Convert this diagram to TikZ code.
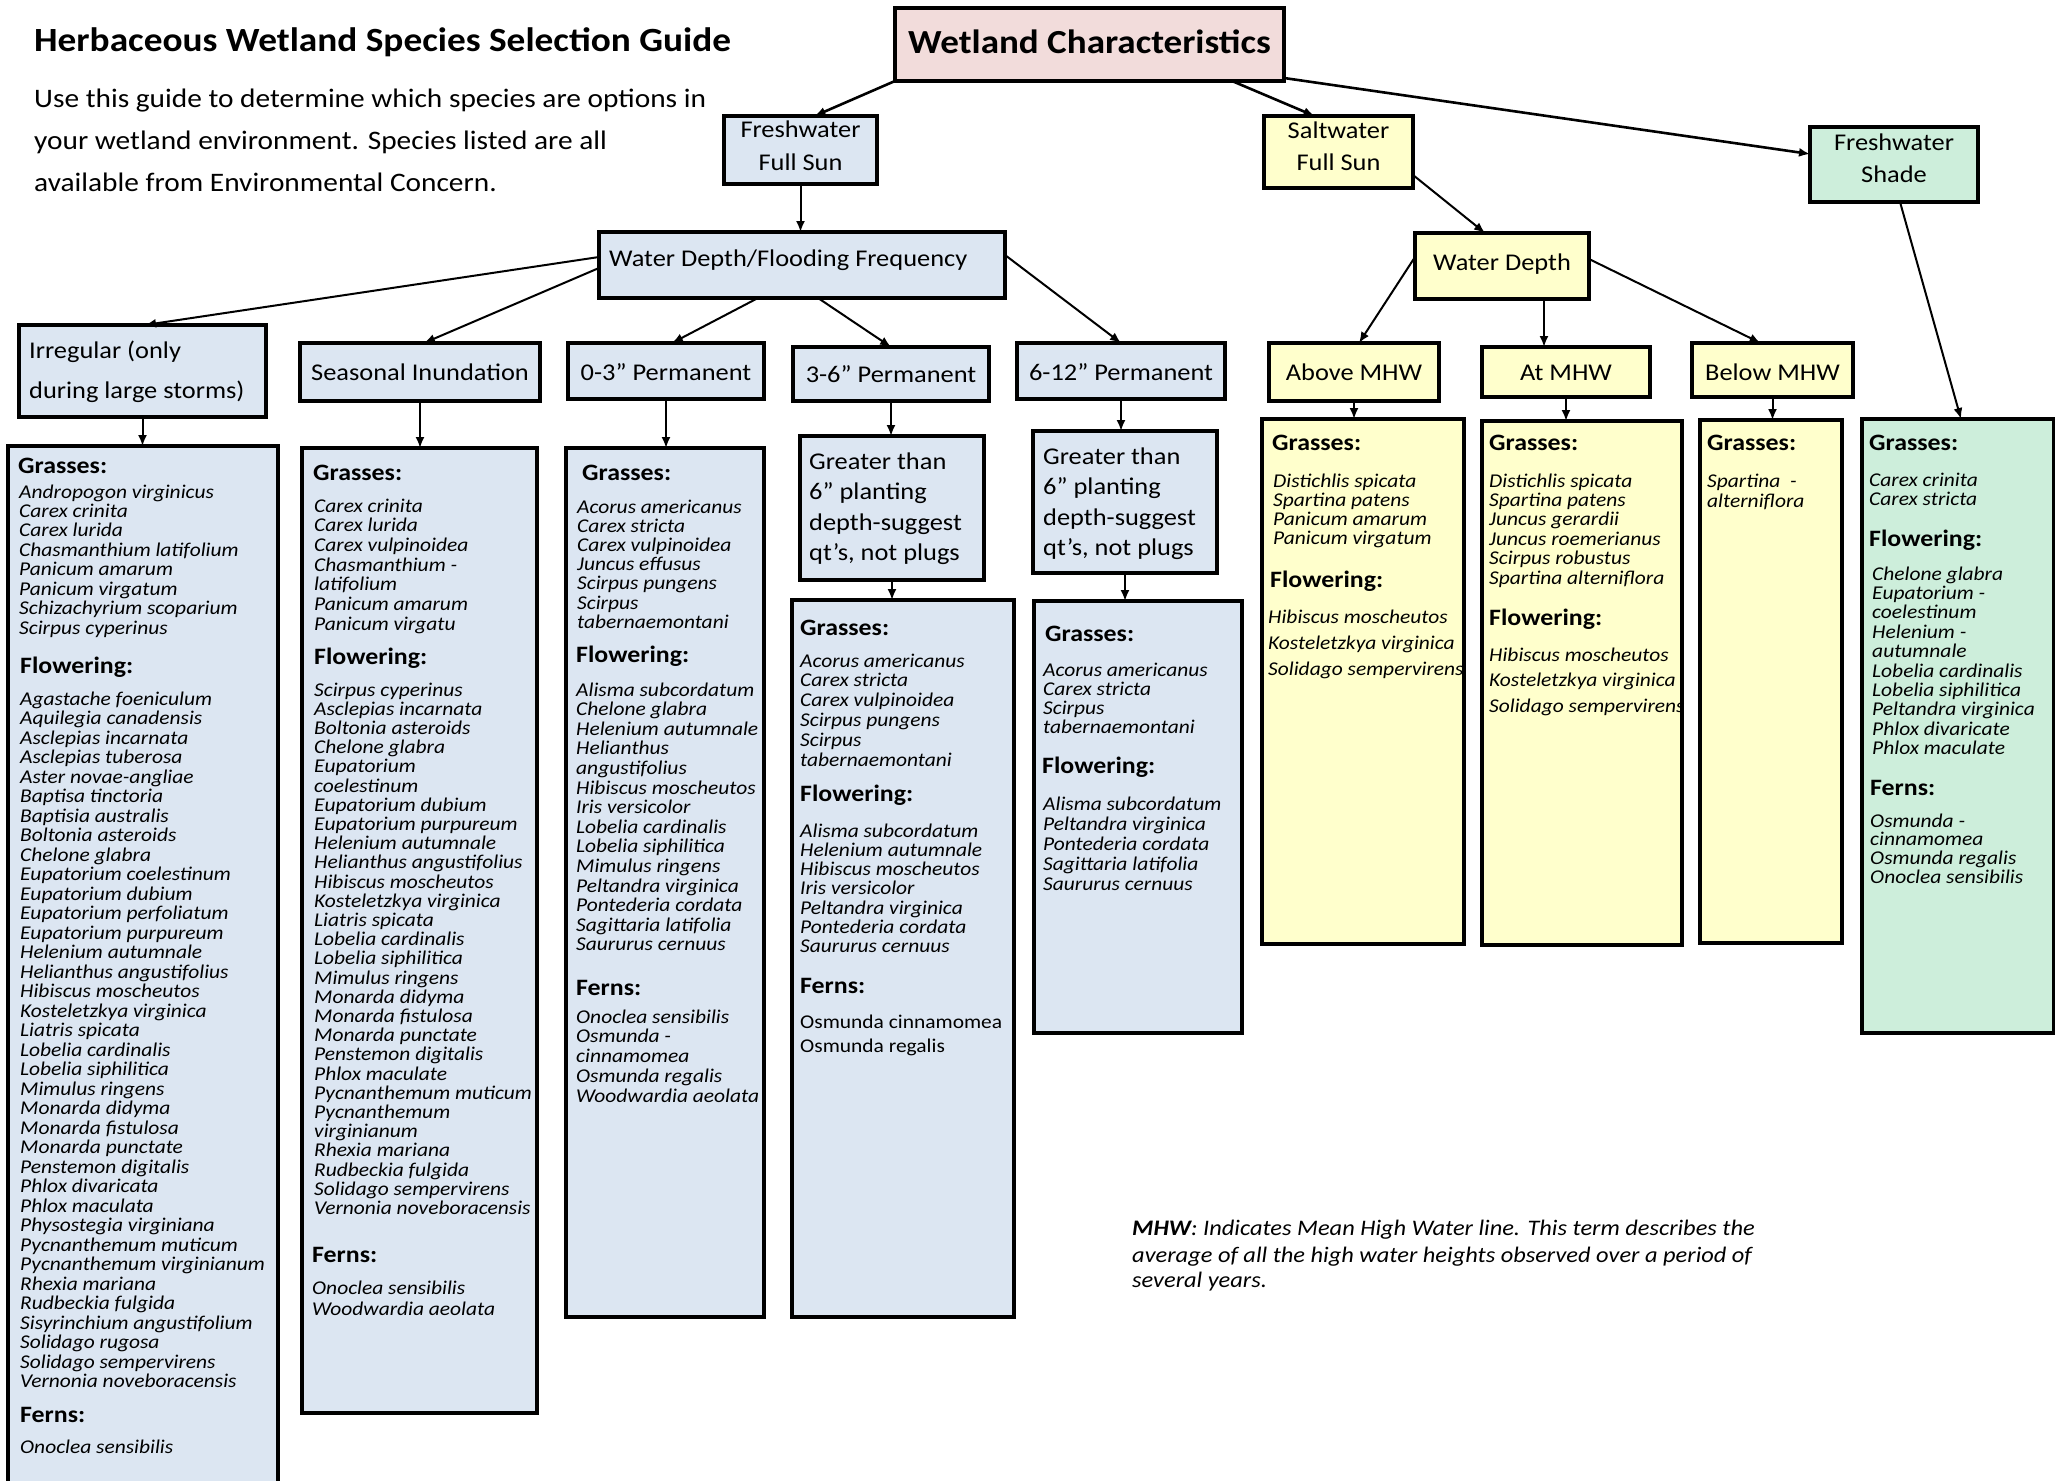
\documentclass[tikz,border=0pt]{standalone}
\usepackage{fontspec}
\setmainfont{Carlito}[FakeStretch=1.1]
\usetikzlibrary{arrows.meta}
\definecolor{bluefill}{RGB}{220,230,242}
\definecolor{yelfill}{RGB}{255,255,204}
\definecolor{grnfill}{RGB}{205,238,219}
\definecolor{pinkfill}{RGB}{242,220,219}
\tikzset{
  box/.style={draw=black, line width=3.5pt, inner sep=0pt, outer sep=0pt},
  bluebox/.style={box, fill=bluefill},
  yelbox/.style={box, fill=yelfill},
  grnbox/.style={box, fill=grnfill},
  pinkbox/.style={box, fill=pinkfill},
  lab/.style={inner sep=0pt, anchor=base, font=\fontsize{24}{24}\selectfont},
  labl/.style={lab, anchor=base west},
  gtxt/.style={inner sep=0pt, anchor=base west, font=\fontsize{24}{24}\selectfont},
  itm/.style={inner sep=0pt, anchor=base west, font=\itshape\fontsize{19.5}{19.5}\selectfont},
  upitm/.style={inner sep=0pt, anchor=base west, font=\fontsize{19.5}{19.5}\selectfont},
  hd/.style={inner sep=0pt, anchor=base west, font=\bfseries\fontsize{23.5}{23.5}\selectfont},
  arr/.style={draw, line width=2pt, -{Latex[length=11pt,width=9pt]}},
  arrb/.style={arr, line width=2.6pt},
}
\newcommand{\bx}[6]{\node[#2, anchor=north west, minimum width={#5-#3}, minimum height={#6-#4}] (#1) at (#3,#4) {};}
\newcommand{\splist}[6]{\foreach \itm [count=\k from 0] in {#6} {\node[#5] (#1-\k) at (#2,{#3+\k*#4}) {\itm};}}
\begin{document}
\begin{tikzpicture}[x=1pt,y=-1pt]
\useasboundingbox (0,0) rectangle (2055,1480);

% title and intro
\node[inner sep=0pt, anchor=base west, font=\bfseries\fontsize{33.9}{33.9}\selectfont] (title) at (34,52) {Herbaceous Wetland Species Selection Guide};
\node[inner sep=0pt, anchor=base west, font=\fontsize{26.7}{26.7}\selectfont] (intro1) at (34,107) {Use this guide to determine which species are options in};
\node[inner sep=0pt, anchor=base west, font=\fontsize{26.7}{26.7}\selectfont] (intro2) at (34,149) {your wetland environment. Species listed are all};
\node[inner sep=0pt, anchor=base west, font=\fontsize{26.7}{26.7}\selectfont] (intro3) at (34,191) {available from Environmental Concern.};

% level 0/1 boxes
\bx{wc}{pinkbox}{895}{8}{1284}{81}
\node[inner sep=0pt, anchor=base, font=\bfseries\fontsize{33.7}{33.7}\selectfont] (wct) at (1089.5,53) {Wetland Characteristics};
\bx{ffs}{bluebox}{724}{116}{877}{184}
\node[lab] (ffs1) at (800.5,137) {Freshwater};
\node[lab] (ffs2) at (800.5,170) {Full Sun};
\bx{salt}{yelbox}{1264}{116}{1413}{188}
\node[lab] (salt1) at (1338.5,138) {Saltwater};
\node[lab] (salt2) at (1338.5,170) {Full Sun};
\bx{fshade}{grnbox}{1810}{127}{1978}{202}
\node[lab] (fsh1) at (1894,150) {Freshwater};
\node[lab] (fsh2) at (1894,182) {Shade};

\bx{wdff}{bluebox}{599}{232}{1005}{298}
\node[labl] (wdfft) at (609,266) {Water Depth/Flooding Frequency};
\bx{wd}{yelbox}{1415}{233}{1589}{299}
\node[lab] (wdt) at (1502,270) {Water Depth};

% level 2 boxes
\bx{irr}{bluebox}{19}{325}{266}{417}
\node[labl] (irr1) at (29,358) {Irregular (only};
\node[labl] (irr2) at (29,398) {during large storms)};
\bx{seas}{bluebox}{300}{343}{540}{401}
\node[lab] (seast) at (420,380) {Seasonal Inundation};
\bx{p03}{bluebox}{568}{343}{764}{399}
\node[lab] (p03t) at (666,380) {0-3” Permanent};
\bx{p36}{bluebox}{793}{347}{989}{401}
\node[lab] (p36t) at (891,382) {3-6” Permanent};
\bx{p612}{bluebox}{1017}{343}{1225}{399}
\node[lab] (p612t) at (1121,380) {6-12” Permanent};
\bx{above}{yelbox}{1269}{343}{1439}{401}
\node[lab] (abovet) at (1354,380) {Above MHW};
\bx{atm}{yelbox}{1482}{347}{1650}{397}
\node[lab] (atmt) at (1566,380) {At MHW};
\bx{below}{yelbox}{1692}{343}{1853}{397}
\node[lab] (belowt) at (1772.5,380) {Below MHW};

% greater-than boxes
\bx{g36}{bluebox}{800}{436}{984}{580}
\splist{g36t}{809}{469}{30.5}{gtxt}{Greater than,6” planting,depth-suggest,{qt’s, not plugs}}
\bx{g612}{bluebox}{1033}{431}{1217}{573}
\splist{g612t}{1043}{464}{30.5}{gtxt}{Greater than,6” planting,depth-suggest,{qt’s, not plugs}}

% list boxes
\bx{irrL}{bluebox}{8}{446}{278}{1510}
\bx{seasL}{bluebox}{302}{448}{537}{1413}
\bx{z3L}{bluebox}{566}{448}{764}{1317}
\bx{s36L}{bluebox}{792}{600}{1014}{1317}
\bx{s612L}{bluebox}{1034}{601}{1242}{1033}
\bx{aboveL}{yelbox}{1262}{419}{1464}{944}
\bx{atL}{yelbox}{1482}{421}{1682}{945}
\bx{belowL}{yelbox}{1700}{420}{1842}{943}
\bx{greenL}{grnbox}{1862}{419}{2054}{1033}

% Irregular list
\node[hd] (irrh1) at (18,473) {Grasses:};
\splist{irrg}{19}{498}{19.45}{itm}{Andropogon virginicus,Carex crinita,Carex lurida,Chasmanthium latifolium,Panicum amarum,Panicum virgatum,Schizachyrium scoparium,Scirpus cyperinus}
\node[hd] (irrh2) at (20,673) {Flowering:};
\splist{irrf}{20}{705}{19.5}{itm}{Agastache foeniculum,Aquilegia canadensis,Asclepias incarnata,Asclepias tuberosa,Aster novae-angliae,Baptisa tinctoria,Baptisia australis,Boltonia asteroids,Chelone glabra,Eupatorium coelestinum,Eupatorium dubium,Eupatorium perfoliatum,Eupatorium purpureum,Helenium autumnale,Helianthus angustifolius,Hibiscus moscheutos,Kosteletzkya virginica,Liatris spicata,Lobelia cardinalis,Lobelia siphilitica,Mimulus ringens,Monarda didyma,Monarda fistulosa,Monarda punctate,Penstemon digitalis,Phlox divaricata,Phlox maculata,Physostegia virginiana,Pycnanthemum muticum,Pycnanthemum virginianum,Rhexia mariana,Rudbeckia fulgida,Sisyrinchium angustifolium,Solidago rugosa,Solidago sempervirens,Vernonia noveboracensis}
\node[hd] (irrh3) at (20,1422) {Ferns:};
\splist{irrn}{20}{1453}{19.5}{itm}{Onoclea sensibilis}

% Seasonal list
\node[hd] (seah1) at (313,480) {Grasses:};
\splist{seag}{314}{512}{19.7}{itm}{Carex crinita,Carex lurida,Carex vulpinoidea,Chasmanthium -,latifolium,Panicum amarum,Panicum virgatu}
\node[hd] (seah2) at (314,664) {Flowering:};
\splist{seaf}{314}{696}{19.2}{itm}{Scirpus cyperinus,Asclepias incarnata,Boltonia asteroids,Chelone glabra,Eupatorium,coelestinum,Eupatorium dubium,Eupatorium purpureum,Helenium autumnale,Helianthus angustifolius,Hibiscus moscheutos,Kosteletzkya virginica,Liatris spicata,Lobelia cardinalis,Lobelia siphilitica,Mimulus ringens,Monarda didyma,Monarda fistulosa,Monarda punctate,Penstemon digitalis,Phlox maculate,Pycnanthemum muticum,Pycnanthemum,virginianum,Rhexia mariana,Rudbeckia fulgida,Solidago sempervirens,Vernonia noveboracensis}
\node[hd] (seah3) at (312,1262) {Ferns:};
\splist{sean}{312}{1294}{21}{itm}{Onoclea sensibilis,Woodwardia aeolata}

% 0-3 list
\node[hd] (z3h1) at (582,480) {Grasses:};
\splist{z3g}{577}{513}{19.2}{itm}{Acorus americanus,Carex stricta,Carex vulpinoidea,Juncus effusus,Scirpus pungens,Scirpus,tabernaemontani}
\node[hd] (z3h2) at (576,662) {Flowering:};
\splist{z3f}{576}{696}{19.6}{itm}{Alisma subcordatum,Chelone glabra,Helenium autumnale,Helianthus,angustifolius,Hibiscus moscheutos,Iris versicolor,Lobelia cardinalis,Lobelia siphilitica,Mimulus ringens,Peltandra virginica,Pontederia cordata,Sagittaria latifolia,Saururus cernuus}
\node[hd] (z3h3) at (576,995) {Ferns:};
\splist{z3n}{576}{1023}{19.75}{itm}{Onoclea sensibilis,Osmunda -,cinnamomea,Osmunda regalis,Woodwardia aeolata}

% 3-6 list
\node[hd] (s36h1) at (800,635) {Grasses:};
\splist{s36g}{800}{667}{19.8}{itm}{Acorus americanus,Carex stricta,Carex vulpinoidea,Scirpus pungens,Scirpus,tabernaemontani}
\node[hd] (s36h2) at (800,801) {Flowering:};
\splist{s36f}{800}{837}{19.3}{itm}{Alisma subcordatum,Helenium autumnale,Hibiscus moscheutos,Iris versicolor,Peltandra virginica,Pontederia cordata,Saururus cernuus}
\node[hd] (s36h3) at (800,993) {Ferns:};
\splist{s36n}{800}{1028}{24}{upitm}{Osmunda cinnamomea,Osmunda regalis}

% 6-12 list
\node[hd] (s612h1) at (1045,641) {Grasses:};
\splist{s612g}{1043}{676}{19}{itm}{Acorus americanus,Carex stricta,Scirpus,tabernaemontani}
\node[hd] (s612h2) at (1042,773) {Flowering:};
\splist{s612f}{1043}{810}{20}{itm}{Alisma subcordatum,Peltandra virginica,Pontederia cordata,Sagittaria latifolia,Saururus cernuus}

% Above MHW list
\node[hd] (abh1) at (1272,450) {Grasses:};
\splist{abg}{1273}{487}{19.3}{itm}{Distichlis spicata,Spartina patens,Panicum amarum,Panicum virgatum}
\node[hd] (abh2) at (1270,587) {Flowering:};
\splist{abf}{1268}{623}{26}{itm}{Hibiscus moscheutos,Kosteletzkya virginica,Solidago sempervirens}

% At MHW list
\node[hd] (ath1) at (1489,450) {Grasses:};
\splist{atg}{1489}{487}{19.4}{itm}{Distichlis spicata,Spartina patens,Juncus gerardii,Juncus roemerianus,Scirpus robustus,Spartina alterniflora}
\node[hd] (ath2) at (1489,625) {Flowering:};
\splist{atf}{1489}{661}{25.7}{itm}{Hibiscus moscheutos,Kosteletzkya virginica,Solidago sempervirens}

% Below MHW list
\node[hd] (beh1) at (1707,450) {Grasses:};
\splist{beg}{1707}{487}{20}{itm}{Spartina~~-,alterniflora}

% Freshwater shade list
\node[hd] (grh1) at (1869,450) {Grasses:};
\splist{grg}{1869}{486}{19}{itm}{Carex crinita,Carex stricta}
\node[hd] (grh2) at (1869,546) {Flowering:};
\splist{grf}{1872}{580}{19.4}{itm}{Chelone glabra,Eupatorium -,coelestinum,Helenium -,autumnale,Lobelia cardinalis,Lobelia siphilitica,Peltandra virginica,Phlox divaricate,Phlox maculate}
\node[hd] (grh3) at (1870,795) {Ferns:};
\splist{grn}{1870}{827}{18.7}{itm}{Osmunda -,cinnamomea,Osmunda regalis,Onoclea sensibilis}

% MHW note
\node[inner sep=0pt, anchor=base west, font=\itshape\fontsize{22.2}{22.2}\selectfont] (note1) at (1132,1235) {\textbf{MHW}: Indicates Mean High Water line. This term describes the};
\node[inner sep=0pt, anchor=base west, font=\itshape\fontsize{22.2}{22.2}\selectfont] (note2) at (1132,1262) {average of all the high water heights observed over a period of};
\node[inner sep=0pt, anchor=base west, font=\itshape\fontsize{22.2}{22.2}\selectfont] (note3) at (1132,1287) {several years.};

% connectors
\draw[arrb] (wc.south west) -- ([xshift=14pt]ffs.north);
\draw[arrb] ([xshift=-52pt]wc.south east) -- ([xshift=-24pt]salt.north);
\draw[arrb] ([yshift=3pt]wc.south east) -- ([yshift=10.5pt]fshade.west);
\draw[arr] (ffs.south) -- (ffs.south |- wdff.north);
\draw[arr] ([yshift=13pt]salt.south east) -- ([xshift=-17pt]wd.north);
\draw[arr] ([xshift=6pt]fshade.south) -- ([xshift=3pt]greenL.north);

\draw[arr] ([yshift=8pt]wdff.west) -- ([xshift=2.5pt]irr.north);
\draw[arr] ([yshift=-3pt]wdff.west) -- ([xshift=4pt]seas.north);
\draw[arr] ([xshift=-44pt]wdff.south) -- ([xshift=6pt]p03.north);
\draw[arr] ([xshift=16pt]wdff.south) -- (p36.north);
\draw[arr] ([yshift=10pt]wdff.east) -- (p612.north);

\draw[arr] ([yshift=9pt]wd.west) -- ([xshift=5pt]above.north);
\draw[arr] ([xshift=42pt]wd.south) -- ([xshift=42pt]wd.south |- atm.north);
\draw[arr] ([yshift=7pt]wd.east) -- ([xshift=-12pt]below.north);

\draw[arr] (irr.south) -- (irr.south |- irrL.north);
\draw[arr] (seas.south) -- (seas.south |- seasL.north);
\draw[arr] (p03.south) -- (p03.south |- z3L.north);
\draw[arr] (p36.south) -- (p36.south |- g36.north);
\draw[arr] (g36.south) -- (g36.south |- s36L.north);
\draw[arr] (p612.south) -- (p612.south |- g612.north);
\draw[arr] (g612.south) -- (g612.south |- s612L.north);
\draw[arr] (above.south) -- (above.south |- aboveL.north);
\draw[arr] (atm.south) -- (atm.south |- atL.north);
\draw[arr] (below.south) -- (below.south |- belowL.north);
\end{tikzpicture}
\end{document}
